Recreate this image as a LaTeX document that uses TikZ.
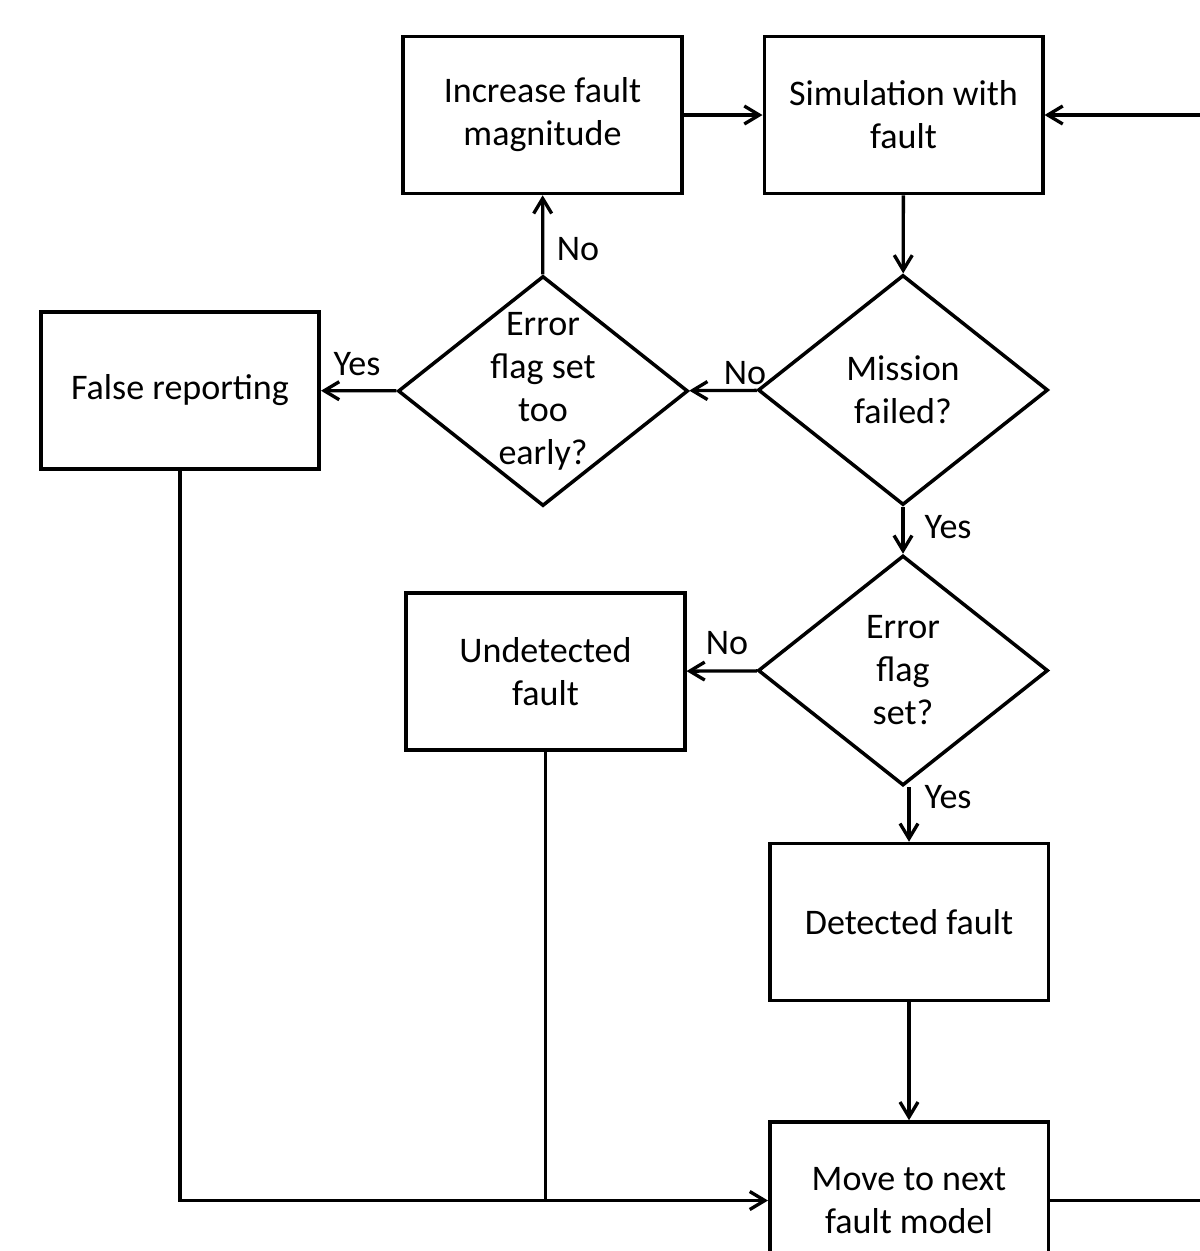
\documentclass[tikz,border=0pt]{standalone}
\usepackage{fontspec}
\setmainfont{Carlito}
\usetikzlibrary{arrows.meta,shapes.geometric}
\tikzset{
    box/.style={draw, line width=2pt, rectangle, align=center, inner sep=0pt,
        minimum width=5.57cm, minimum height=3.14cm},
    decision/.style={draw, line width=2pt, diamond, inner sep=0pt,
        minimum width=5.8cm, minimum height=4.6cm,
        label={[align=center]center:#1}},
    flow/.style={line width=1.9pt, -{Straight Barb[length=3mm,width=3.6mm,line width=1.9pt]}},
    lbl/.style={inner sep=0pt},
}
\begin{document}
\begin{tikzpicture}[font=\fontsize{20.5}{24.5}\selectfont]
    \useasboundingbox (0,0) rectangle (24,-25.02);
    \node[box] (inc) at (10.85, -2.3) {Increase fault\\magnitude};
    \node[box] (sim) at (18.07, -2.3) {Simulation with\\fault};
    \node[decision={Mission\\failed?}] (mission) at (18.06, -7.8) {};
    \node[decision={Error\\flag set\\too\\early?}] (early) at (10.86, -7.82) {};
    \node[box] (false) at (3.6, -7.81) {False reporting};
    \node[decision={Error\\flag\\set?}] (flag) at (18.06, -13.41) {};
    \node[box] (undet) at (10.91, -13.43) {Undetected\\fault};
    \node[box] (detect) at (18.18, -18.44) {Detected fault};
    \node[box] (move) at (18.18, -24.01) {Move to next\\fault model};
    \node[lbl] (no1) at (14.9, -7.46) {No};
    \node[lbl] (no2) at (11.56, -4.98) {No};
    \node[lbl] (yes1) at (7.14, -7.28) {Yes};
    \node[lbl] (yes2) at (18.96, -10.54) {Yes};
    \node[lbl] (no3) at (14.54, -12.86) {No};
    \node[lbl] (yes3) at (18.96, -15.94) {Yes};
    \draw[flow] (inc) -- (sim);
    \draw[flow] (sim) -- (mission);
    \draw[flow] (mission) -- (early);
    \draw[flow] (early) -- (inc);
    \draw[flow] (early) -- (false);
    \draw[flow] (mission) -- (flag);
    \draw[flow] (flag) -- (undet);
    \draw[flow] (detect.north |- flag.south) -- (detect.north);
    \draw[flow] (detect) -- (move);
    \draw[flow] (false.south) |- (move.west);
    \draw[line width=1.9pt] (undet.south) -- (undet.south |- move.west);
    \draw[flow] (move.east) -- ++(4,0) |- (sim.east);
\end{tikzpicture}
\end{document}
